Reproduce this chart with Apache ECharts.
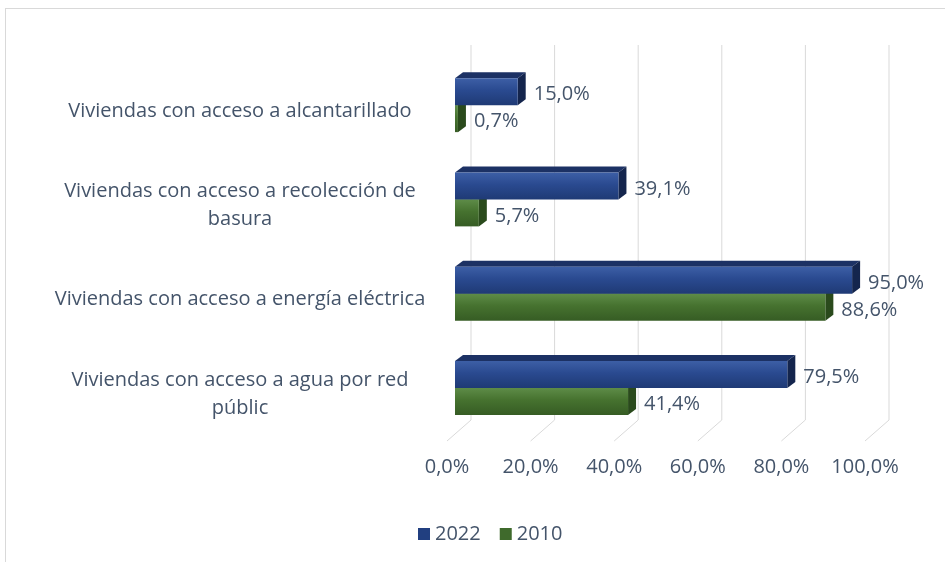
<!DOCTYPE html>
<html>
<head>
<meta charset="utf-8">
<script src="https://cdn.jsdelivr.net/npm/echarts@6/dist/echarts.min.js"></script>
<style>
  html, body { margin: 0; padding: 0; background: #fff; }
  #frame { position: absolute; left: 5px; top: 8px; width: 945px; height: 560px;
           border-left: 1px solid #d9d9d9; border-top: 1px solid #d9d9d9; }
  #chart { position: absolute; left: 0; top: 0; width: 945px; height: 562px; }
</style>
</head>
<body>
<div id="frame"></div>
<div id="chart"></div>
<script>
// data
const categories = [
    'Viviendas con acceso a alcantarillado',
    'Viviendas con acceso a recolección de\nbasura',
    'Viviendas con acceso a energía eléctrica',
    'Viviendas con acceso a agua por red\npúblic'
];
const values2022 = [15.0, 39.1, 95.0, 79.5];
const values2010 = [0.7, 5.7, 88.6, 41.4];
const xTicks = [0, 20, 40, 60, 80, 100];

const TEXT = '#44546a';
const FONT = '"Open Sans", sans-serif';
const BAR_H = 27;      // height of one bar face
const DX = 8, DY = -6; // 3d depth offset
const LIFT = 6;        // bars sit a little above the label line

const fmt = v => v.toFixed(1).replace('.', ',') + '%';

const chart = echarts.init(document.getElementById('chart'));

const makeBar = (front, top, side, upper) => function (params, api) {
    const cat = api.value(1);
    const v = api.value(0);
    const s = api.coord([0, cat]);
    const e = api.coord([v, cat]);
    const c = s[1] - LIFT;
    const y0 = upper ? c - BAR_H : c;
    const x0 = s[0], x1 = e[0];
    return {
        type: 'group',
        children: [
            {
                type: 'polygon',
                shape: { points: [[x0, y0], [x0 + DX, y0 + DY], [x1 + DX, y0 + DY], [x1, y0]] },
                style: { fill: top }
            },
            {
                type: 'polygon',
                shape: { points: [[x1, y0], [x1 + DX, y0 + DY], [x1 + DX, y0 + DY + BAR_H], [x1, y0 + BAR_H]] },
                style: { fill: side }
            },
            {
                type: 'rect',
                shape: { x: x0, y: y0, width: x1 - x0, height: BAR_H },
                style: { fill: front }
            },
            {
                type: 'text',
                style: {
                    text: fmt(v),
                    x: x1 + DX + 8,
                    y: y0 + BAR_H / 2 + 3,
                    align: 'left',
                    verticalAlign: 'middle',
                    fill: TEXT,
                    font: '20px ' + FONT
                }
            }
        ]
    };
};

const grad = (a, b, c) => new echarts.graphic.LinearGradient(0, 0, 0, 1, [
    { offset: 0, color: a },
    { offset: 0.45, color: b },
    { offset: 1, color: c }
]);

const option = {
    animation: false,
    grid: { left: 455, width: 418, top: 64, height: 377 },
    legend: {
        data: ['2022', '2010'],
        left: 413,
        top: 519,
        icon: 'rect',
        itemWidth: 12,
        itemHeight: 12,
        itemGap: 19,
        textStyle: { color: TEXT, fontFamily: FONT, fontSize: 20 }
    },
    xAxis: {
        type: 'value',
        min: 0,
        max: 100,
        interval: 20,
        splitLine: { show: false },
        axisLine: { show: false },
        axisTick: { show: false },
        axisLabel: {
            margin: 16,
            color: TEXT,
            fontFamily: FONT,
            fontSize: 20,
            padding: [0, 16, 0, 0],
            formatter: v => fmt(v)
        }
    },
    yAxis: {
        type: 'category',
        inverse: true,
        data: categories,
        axisLine: { show: false },
        axisTick: { show: false },
        axisLabel: {
            align: 'center',
            margin: 215,
            color: TEXT,
            fontFamily: FONT,
            fontSize: 20,
            lineHeight: 28
        }
    },
    series: [
        {
            name: 'grid',
            type: 'custom',
            silent: true,
            data: xTicks.map(v => [v, 0]),
            renderItem: function (params, api) {
                const cs = params.coordSys;
                const x = api.coord([api.value(0), 0])[0];
                const top = cs.y - 19;
                const bottom = cs.y + cs.height;
                return {
                    type: 'polyline',
                    shape: { points: [[x + 16, top], [x + 16, bottom - 21], [x - 8, bottom]] },
                    style: { stroke: '#d9d9d9', lineWidth: 1, fill: null }
                };
            }
        },
        {
            name: '2010',
            type: 'custom',
            itemStyle: { color: '#3f6a2c' },
            data: values2010.map((v, i) => [v, i]),
            renderItem: makeBar(grad('#5e8c48', '#46722f', '#365c24'), '#4f7a3a', '#2a4a1c', false)
        },
        {
            name: '2022',
            type: 'custom',
            itemStyle: { color: '#213f80' },
            data: values2022.map((v, i) => [v, i]),
            renderItem: makeBar(grad('#3d5fa6', '#2a4a90', '#1f3a75'), '#1c3164', '#14254d', true)
        }
    ]
};

chart.setOption(option);
</script>
</body>
</html>
